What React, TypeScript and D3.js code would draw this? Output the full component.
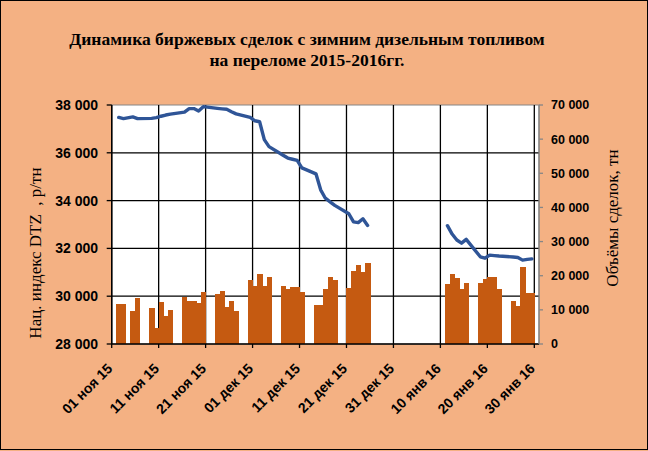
import React from 'react';
import * as d3 from 'd3';

// trading days (bars + price line)
const dates = [
  '2015-11-02', '2015-11-03', '2015-11-05', '2015-11-06',
  '2015-11-09', '2015-11-10', '2015-11-11', '2015-11-12', '2015-11-13',
  '2015-11-16', '2015-11-17', '2015-11-18', '2015-11-19', '2015-11-20',
  '2015-11-23', '2015-11-24', '2015-11-25', '2015-11-26', '2015-11-27',
  '2015-11-30', '2015-12-01', '2015-12-02', '2015-12-03', '2015-12-04',
  '2015-12-07', '2015-12-08', '2015-12-09', '2015-12-10', '2015-12-11',
  '2015-12-14', '2015-12-15', '2015-12-16', '2015-12-17', '2015-12-18',
  '2015-12-21', '2015-12-22', '2015-12-23', '2015-12-24', '2015-12-25',
  '2016-01-11', '2016-01-12', '2016-01-13', '2016-01-14', '2016-01-15',
  '2016-01-18', '2016-01-19', '2016-01-20', '2016-01-21', '2016-01-22',
  '2016-01-25', '2016-01-26', '2016-01-27', '2016-01-28', '2016-01-29',
];

// volumes, tn
const volumes = [
  11700, 11700, 9700, 13500,
  10500, 4700, 12300, 8200, 10000,
  13800, 12600, 12600, 12000, 15200,
  14600, 15500, 10800, 12600, 9700,
  18700, 17000, 20500, 17000, 19600,
  17000, 16100, 16700, 16700, 15200,
  11400, 11400, 16100, 19600, 18700,
  16400, 21400, 23100, 21100, 23700,
  17600, 20500, 19300, 16100, 17900,
  17900, 19000, 19600, 19600, 16100,
  12600, 11100, 22600, 14900, 14900,
];

// DTZ index, rub/tn
const prices = [
  37480, 37430, 37500, 37430,
  37440, 37470, 37530, 37580, 37620,
  37700, 37850, 37850, 37750, 37930,
  37860, 37840, 37820, 37720, 37630,
  37480, 37340, 37300, 36550, 36260,
  35900, 35780, 35730, 35680, 35370,
  35120, 34450, 34100, 33950, 33800,
  33450, 33110, 33080, 33240, 32960,
  32950, 32600, 32350, 32220, 32380,
  31650, 31590, 31720, 31700, 31680,
  31640, 31620, 31510, 31540, 31560,
];

const tickDates = [
  '2015-11-01', '2015-11-11', '2015-11-21', '2015-12-01', '2015-12-11', '2015-12-21',
  '2015-12-31', '2016-01-10', '2016-01-20', '2016-01-30',
];
const tickLabels = [
  '01 ноя 15', '11 ноя 15', '21 ноя 15', '01 дек 15', '11 дек 15', '21 дек 15',
  '31 дек 15', '10 янв 16', '20 янв 16', '30 янв 16',
];
const leftTicks = [28000, 30000, 32000, 34000, 36000, 38000];
const rightTicks = [0, 10000, 20000, 30000, 40000, 50000, 60000, 70000];

const W = 648;
const H = 451;
const plot = { left: 111.7, right: 539, top: 105, bottom: 344 };
const DAY = 864e5;

const fmt = (v: number) => d3.format(',')(v).replace(/,/g, ' ');

export default function App() {
  const parsed = dates.map(d => new Date(d + 'T00:00:00Z'));
  const x = d3.scaleUtc()
    .domain([new Date('2015-11-01T00:00:00Z'), new Date('2016-01-31T00:00:00Z')])
    .range([plot.left, plot.right]);
  const yL = d3.scaleLinear().domain([28000, 38000]).range([plot.bottom, plot.top]);
  const yR = d3.scaleLinear().domain([0, 70000]).range([plot.bottom, plot.top]);

  const rows = parsed.map((d, i) => ({ d, v: volumes[i], p: prices[i] }));
  // break the line where there is a long gap in trading
  const segments: typeof rows[] = [];
  rows.forEach((r, i) => {
    if (i === 0 || +r.d - +rows[i - 1].d > 7 * DAY) segments.push([]);
    segments[segments.length - 1].push(r);
  });
  const line = d3.line<typeof rows[0]>()
    .x(r => x(new Date(+r.d + DAY / 2)))
    .y(r => yL(r.p));

  const font = '"Liberation Sans", Arial, sans-serif';
  const serif = '"Liberation Serif", "Times New Roman", serif';

  return (
    <svg width={W} height={H} style={{ position: 'fixed', left: 0, top: 0 }}>
      <rect x={0} y={0} width={W} height={H} fill="#F4B183" />
      <rect x={0.5} y={0.5} width={W - 1} height={449} fill="none" stroke="#000" />

      <text x={307} y={45} textAnchor="middle" fontFamily={serif} fontWeight="bold" fontSize={17.5}>
        Динамика биржевых сделок с зимним дизельным топливом
      </text>
      <text x={307} y={66} textAnchor="middle" fontFamily={serif} fontWeight="bold" fontSize={17.5}>
        на переломе 2015-2016гг.
      </text>

      <rect x={plot.left} y={plot.top} width={plot.right - plot.left} height={plot.bottom - plot.top}
        fill="#fff" stroke="#868686" />

      {leftTicks.slice(1, -1).map(t => (
        <line key={t} x1={plot.left} x2={plot.right} y1={yL(t)} y2={yL(t)} stroke="#000" strokeWidth={1.3} />
      ))}
      {tickDates.map(t => {
        const xx = x(new Date(t + 'T00:00:00Z'));
        return <line key={t} x1={xx} x2={xx} y1={plot.top} y2={plot.bottom + 4} stroke="#000" strokeWidth={1.3} />;
      })}

      <g shapeRendering="crispEdges">
        {rows.map((r, i) => (
          <rect key={i} x={x(r.d)} y={yR(r.v)} width={x(new Date(+r.d + DAY)) - x(r.d) + 0.6}
            height={plot.bottom - yR(r.v)} fill="#C55A11" />
        ))}
      </g>

      {segments.map((s, i) => (
        <path key={i} d={line(s) || ''} fill="none" stroke="#2F5597" strokeWidth={3.4}
          strokeLinejoin="round" strokeLinecap="round" />
      ))}

      {/* left axis */}
      <line x1={plot.left} x2={plot.left} y1={plot.top} y2={plot.bottom} stroke="#000" strokeWidth={1.3} />
      <line x1={plot.left} x2={plot.right} y1={plot.bottom} y2={plot.bottom} stroke="#000" strokeWidth={1.3} />
      {leftTicks.map(t => (
        <g key={t}>
          <line x1={plot.left - 5} x2={plot.left} y1={yL(t)} y2={yL(t)} stroke="#000" strokeWidth={1.3} />
          <text x={98} y={yL(t)} dy="0.35em" textAnchor="end" fontFamily={font} fontWeight="bold" fontSize={14}>
            {fmt(t)}
          </text>
        </g>
      ))}

      {/* right axis */}
      <line x1={plot.right} x2={plot.right} y1={plot.top} y2={plot.bottom} stroke="#868686" strokeWidth={1.3} />
      {rightTicks.map(t => (
        <g key={t}>
          <line x1={plot.right} x2={plot.right + 4} y1={yR(t)} y2={yR(t)} stroke="#868686" strokeWidth={1.3} />
          <text x={551} y={yR(t)} dy="0.35em" fontFamily={font} fontWeight="bold" fontSize={12.5}>
            {fmt(t)}
          </text>
        </g>
      ))}

      {/* x labels */}
      {tickDates.map((t, i) => {
        const xx = x(new Date(t + 'T00:00:00Z'));
        return (
          <text key={t} transform={`translate(${xx - 2},${366}) rotate(-45)`} dy="0.35em" textAnchor="end"
            fontFamily={font} fontWeight="bold" fontSize={14}>
            {tickLabels[i]}
          </text>
        );
      })}

      <text transform="translate(35,253) rotate(-90)" textAnchor="middle" dy="0.35em" fontFamily={serif}
        fontSize={17} style={{ whiteSpace: 'pre' }}>
        {'Нац. индекс DTZ  , р/тн'}
      </text>
      <text transform="translate(612,218) rotate(-90)" textAnchor="middle" dy="0.35em" fontFamily={serif}
        fontSize={17}>
        Объёмы сделок, тн
      </text>
    </svg>
  );
}
